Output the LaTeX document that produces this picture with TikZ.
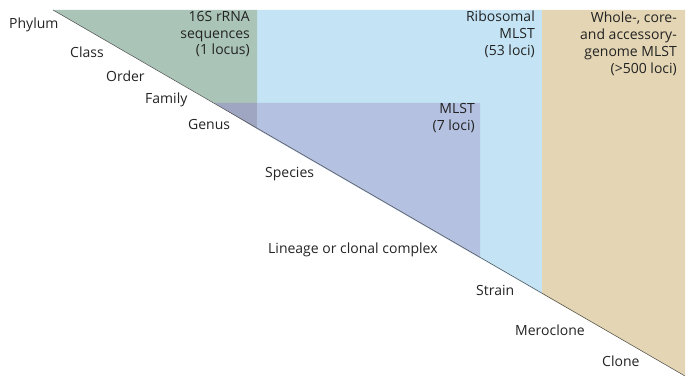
\documentclass[tikz,border=0pt]{standalone}
\usepackage{fontspec}
\setmainfont{Open Sans}
\usetikzlibrary{positioning}

\definecolor{rnaGreen}{RGB}{170,196,184}
\definecolor{riboBlue}{RGB}{196,228,245}
\definecolor{mlstPurple}{RGB}{180,193,225}
\definecolor{overlapGray}{RGB}{158,166,193}
\definecolor{wgTan}{RGB}{228,214,180}
\definecolor{labelGray}{RGB}{35,35,35}

\begin{document}
\begin{tikzpicture}[
		x=1pt, y=-1pt,
		font=\fontsize{14}{16.8}\selectfont,
		% Text styles
		rank/.style={anchor=west, inner sep=0pt, text=labelGray},
		method/.style={anchor=north east, align=right, inner sep=0pt, text=labelGray},
		% Region style
		region/.style={draw=none}
		]
		\useasboundingbox (0,0) rectangle (693,385);
		
		% =========================================================
		% COLOURED REGIONS UNDER THE DIAGONAL
		% =========================================================
		\coordinate (apex) at (53,10);
		\coordinate (tip) at (685,376);
		
		\fill[region, riboBlue] (257,10) -- (542,10) -- (542,294) -- (257,129) -- cycle;
		\fill[region, rnaGreen] (apex) -- (257,10) -- (257,103) -- (214,103) -- cycle;
		\fill[region, overlapGray] (214,103) -- (257,103) -- (257,129) -- cycle;
		\fill[region, mlstPurple] (257,103) -- (480,103) -- (480,258) -- (257,129) -- cycle;
		\fill[region, wgTan] (542,10) -- (685,10) -- (tip) -- (542,294) -- cycle;
		
		% The diagonal
		\draw[gray!60!black, line width=0.5pt] (apex) -- (tip);
		
		% =========================================================
		% METHOD LABELS
		% =========================================================
		\node[method] (Rna) at (250,11) {16S rRNA\\sequences\\(1 locus)};
		\node[method] (Ribo) at (535,11) {Ribosomal\\MLST\\(53 loci)};
		\node[method] (Mlst) at (475,103) {MLST\\(7 loci)};
		\node[method] (Whole) at (677,12) {Whole-, core-\\and accessory-\\genome MLST\\(>500 loci)};
		
		% =========================================================
		% TAXONOMIC RANKS ALONG THE DIAGONAL
		% =========================================================
		\node[rank] (Phylum) at (9,25) {Phylum};
		\node[rank] (Class) at (70,52) {Class};
		\node[rank] (Order) at (106,76) {Order};
		\node[rank] (Family) at (145,100) {Family};
		\node[rank] (Genus) at (188,125) {Genus};
		\node[rank] (Species) at (265,174) {Species};
		\node[rank] (Lineage) at (268,250) {Lineage or clonal complex};
		\node[rank] (Strain) at (476,290) {Strain};
		\node[rank] (Meroclone) at (515,330) {Meroclone};
		\node[rank] (Clone) at (602,361) {Clone};
		
	\end{tikzpicture}
\end{document}
